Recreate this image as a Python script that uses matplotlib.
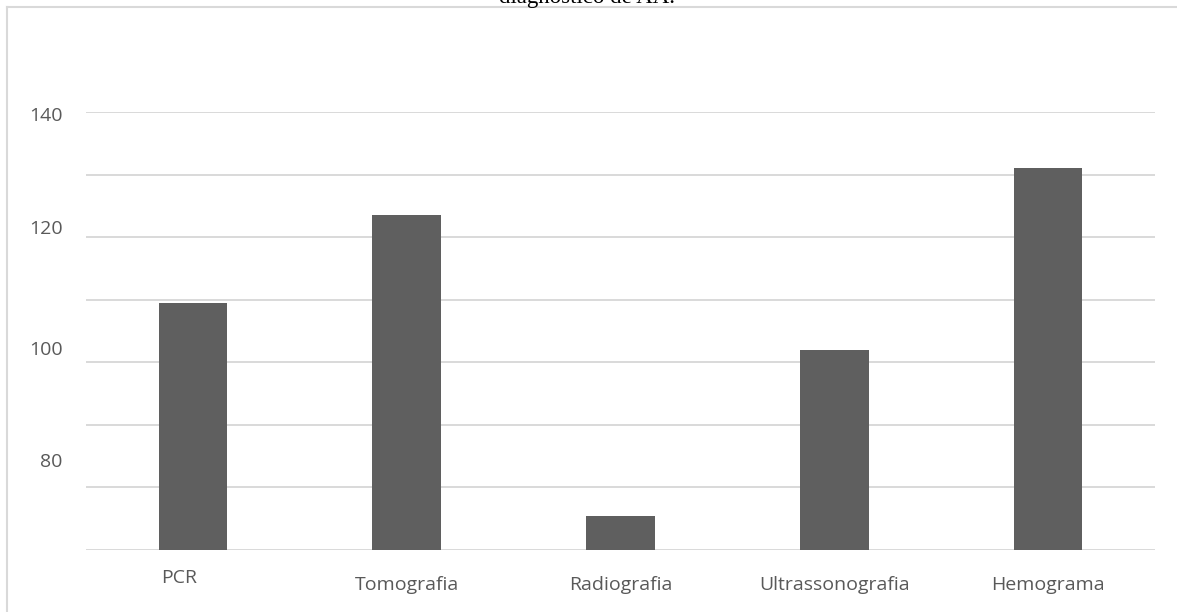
import matplotlib
matplotlib.use("Agg")
import matplotlib.pyplot as plt
import matplotlib.transforms as mtransforms
from matplotlib.lines import Line2D
import numpy as np

# data
categories = ["PCR", "Tomografia", "Radiografia", "Ultrassonografia", "Hemograma"]
values = [109.5, 123.5, 75.5, 102.0, 131.0]

# the y labels in the source are drawn a little off the grid lines
ytick_pos = [139.7, 121.6, 102.3, 84.4]
ytick_labels = ["140", "120", "100", "80"]
grid_levels = [70, 80, 90, 100, 110, 120, 130, 140]

title = "diagnóstico de AA."

bar_color = "#5f5f5f"
grid_color = "#d9d9d9"
text_color = "#595959"

fig = plt.figure(figsize=(11.77, 6.12), dpi=100)
ax = fig.add_axes([86 / 1177, 62 / 612, (1155 - 86) / 1177, (550 - 112) / 612])

x = np.arange(len(categories))
ax.bar(x, values, width=0.32, color=bar_color, zorder=3)

ax.set_xlim(-0.5, len(categories) - 0.5)
ax.set_ylim(70, 140)

# grid lines
ax.set_yticks(grid_levels, minor=True)
ax.grid(which="minor", axis="y", color=grid_color, linewidth=1.4, zorder=0)
ax.tick_params(axis="y", which="minor", length=0)

ax.set_yticks(ytick_pos)
ax.set_yticklabels(ytick_labels)
ax.tick_params(axis="y", which="major", length=0, pad=17, labelsize=14, labelcolor=text_color)

ax.set_xticks(x)
ax.set_xticklabels(categories)
ax.tick_params(axis="x", length=0, pad=19, labelsize=14, labelcolor=text_color)

for lab in ax.get_yticklabels() + ax.get_xticklabels():
    lab.set_fontfamily("Open Sans")

# PCR label sits a bit higher and to the left in the source
pcr = ax.get_xticklabels()[0]
pcr.set_transform(pcr.get_transform() + mtransforms.ScaledTranslation(-14 / 100, 7 / 100, fig.dpi_scale_trans))

for s in ax.spines.values():
    s.set_visible(False)

# chart frame (cut off at right and bottom)
fig.add_artist(Line2D([7 / 1177, 7 / 1177], [0, 1 - 7 / 612], transform=fig.transFigure, color=grid_color, lw=1.5))
fig.add_artist(Line2D([7 / 1177, 1], [1 - 7 / 612, 1 - 7 / 612], transform=fig.transFigure, color=grid_color, lw=1.5))

# title is cut off at the top of the image, as in the source
fig.text(587 / 1177, 1 - 3 / 612, title, ha="center", va="baseline",
         fontfamily="Liberation Serif", fontsize=16.5, color="black")

fig.savefig("out.png", dpi=100, facecolor="white")
